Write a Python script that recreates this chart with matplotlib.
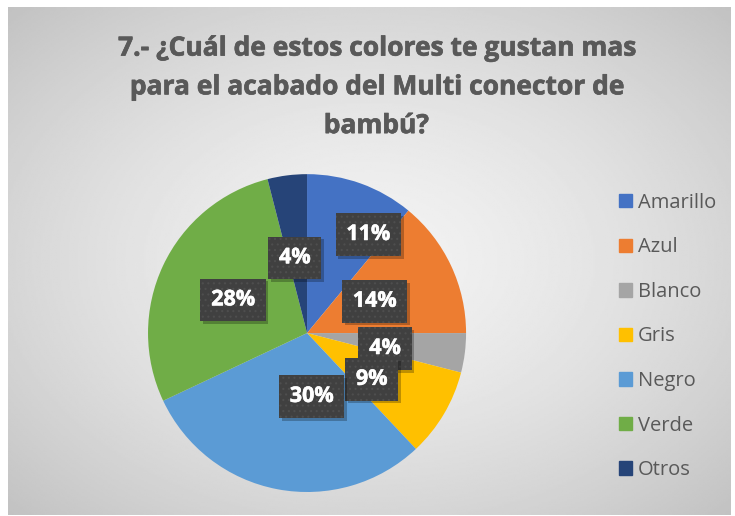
import numpy as np
import matplotlib
matplotlib.use("Agg")
import matplotlib.pyplot as plt
import matplotlib.transforms as mtransforms
import matplotlib.patheffects as pe

plt.rcParams['font.family'] = ['Open Sans', 'DejaVu Sans']
plt.rcParams['hatch.linewidth'] = 0.8

title = "7.- ¿Cuál de estos colores te gustan mas\npara el acabado del Multi conector de\nbambú?"
categories = ['Amarillo', 'Azul', 'Blanco', 'Gris', 'Negro', 'Verde', 'Otros']
values = [11, 14, 4, 9, 30, 28, 4]
colors = ['#4472C4', '#ED7D31', '#A5A5A5', '#FFC000', '#5B9BD5', '#70AD47', '#264478']

# label placement tweaks (radius as fraction, angle shift in degrees)
label_r = [0.73, 0.47, 0.50, 0.50, 0.40, 0.51, 0.48]
label_shift = [12, 0, 4, 5, -15, -1, -2]

fig = plt.figure(figsize=(7.35, 5.16), dpi=100)

# background with radial gradient
bg = fig.add_axes([8 / 735, 1 - 515 / 516, 723 / 735, 508 / 516])
yy, xx = np.mgrid[0:1:300j, 0:1:400j]
d = np.sqrt(((xx - 0.5) / 0.5) ** 2 + ((yy - 0.5) / 0.5) ** 2) / np.sqrt(2)
shade = 0.95 - 0.19 * d ** 1.5
bg.imshow(shade, cmap='gray', vmin=0, vmax=1, aspect='auto', extent=[0, 1, 0, 1])
bg.axis('off')

# thin stroke so the bold face looks a bit heavier
fig.text(0.512, 0.933, title, ha='center', va='top', fontsize=19,
         fontweight='bold', color='#595959', linespacing=1.56,
         path_effects=[pe.withStroke(linewidth=0.5, foreground='#595959')])

ax = fig.add_axes([0.2014, 0.0465, 0.4327, 0.616])
wedges, _ = ax.pie(values, colors=colors, startangle=90, counterclock=False,
                   radius=1, wedgeprops=dict(linewidth=0))
ax.set_xlim(-1, 1)
ax.set_ylim(-1, 1)
ax.set_aspect('auto')

total = sum(values)
start = 90
for i, v in enumerate(values):
    sweep = 360 * v / total
    mid = start - sweep / 2 - label_shift[i]
    start -= sweep
    x = label_r[i] * np.cos(np.radians(mid))
    y = label_r[i] * np.sin(np.radians(mid))
    txt = f"{v}%"
    shadow = mtransforms.offset_copy(ax.transData, fig=fig, x=2, y=-2, units='points')
    ax.text(x, y, txt, transform=shadow, ha='center', va='center', fontsize=15.5,
            fontweight='bold', color='none',
            bbox=dict(boxstyle='square,pad=0.5', fc='black', ec='none', alpha=0.25))
    ax.text(x, y, txt, ha='center', va='center', fontsize=15.5, fontweight='bold',
            color='white',
            path_effects=[pe.withStroke(linewidth=0.4, foreground='white')],
            bbox=dict(boxstyle='square,pad=0.5', fc='#404040', ec='#4e4e4e',
                      lw=0, hatch='...'))

handles = [plt.Rectangle((0, 0), 1, 1, color=c) for c in colors]
leg = fig.legend(handles, categories, loc='upper left', bbox_to_anchor=(0.831, 0.642),
                 frameon=False, fontsize=14.5, handlelength=0.65, handleheight=0.65,
                 handletextpad=0.3, labelspacing=1.22, borderaxespad=0)
for t in leg.get_texts():
    t.set_color('#595959')

fig.savefig('out.png', dpi=100, facecolor='white')
